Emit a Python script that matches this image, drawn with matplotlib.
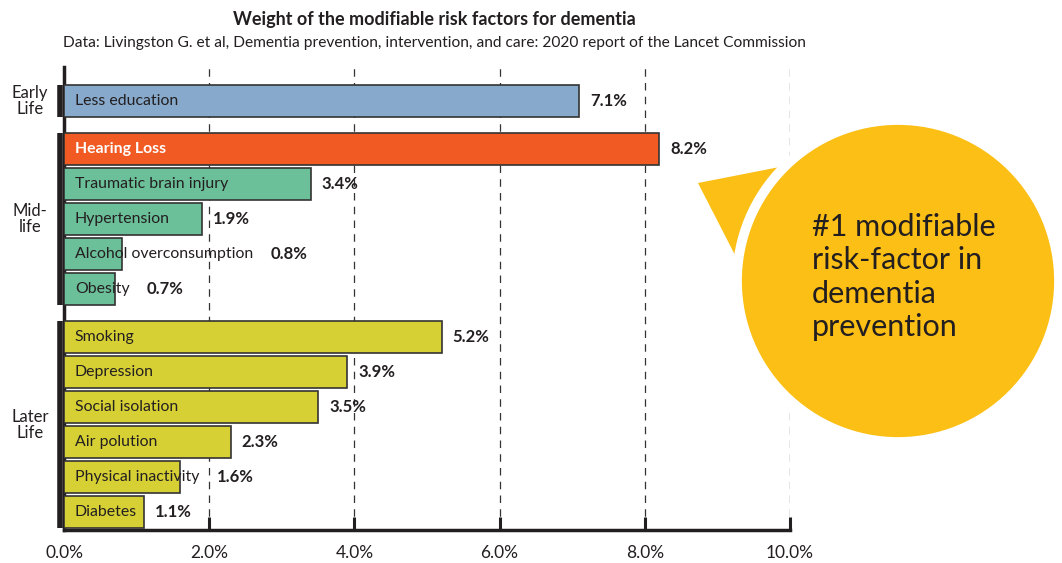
import matplotlib
matplotlib.use("Agg")
import matplotlib.pyplot as plt
from matplotlib.patches import Circle, Polygon

plt.rcParams['font.family'] = ['Lato', 'DejaVu Sans']

# data, top to bottom
groups = ["Early\nLife", "Mid-\nlife", "Later\nLife"]
early_names = ["Less education"]
early_vals = [7.1]
mid_names = ["Hearing Loss", "Traumatic brain injury", "Hypertension",
             "Alcohol overconsumption", "Obesity"]
mid_vals = [8.2, 3.4, 1.9, 0.8, 0.7]
later_names = ["Smoking", "Depression", "Social isolation", "Air polution",
               "Physical inactivity", "Diabetes"]
later_vals = [5.2, 3.9, 3.5, 2.3, 1.6, 1.1]
xticks = [0, 2, 4, 6, 8, 10]

C_EARLY = "#87A9CB"
C_HEAR = "#F15A22"
C_MID = "#6BBF99"
C_LATER = "#D6D035"
C_TEXT = "#231F20"
C_BUBBLE = "#FBBF15"

W, H = 1062, 563
fig = plt.figure(figsize=(W / 100, H / 100), dpi=100)
ax = fig.add_axes([64 / W, 1 - 530 / H, (790 - 64) / W, (530 - 67) / H])

gap = 0.37
group_data = [(early_names, early_vals, C_EARLY),
              (mid_names, mid_vals, C_MID),
              (later_names, later_vals, C_LATER)]

# y positions, bottom group first
pos = {}
y = 0.0
spans = []
for gi in range(len(group_data) - 1, -1, -1):
    names, vals, col = group_data[gi]
    ys = []
    for k in range(len(names) - 1, -1, -1):
        ys.append(y)
        y += 1
    spans.append((gi, min(ys), max(ys)))
    pos[gi] = ys[::-1]
    y += gap
top_y = max(max(p) for p in pos.values())

bar_h = 0.9
name_texts = []
for gi, (names, vals, col) in enumerate(group_data):
    for k, (n, v) in enumerate(zip(names, vals)):
        yy = pos[gi][k]
        c = C_HEAR if n == "Hearing Loss" else col
        ax.barh(yy, v, height=bar_h, color=c, edgecolor="#333333",
                linewidth=1.2, zorder=3)
        bold = n == "Hearing Loss"
        t = ax.text(0.15, yy, n, va="center", ha="left", fontsize=11.4,
                    color="white" if bold else C_TEXT,
                    fontweight="bold" if bold else "normal", zorder=4)
        name_texts.append((t, v, yy))

ax.set_xlim(0, 10)
ax.set_ylim(-0.51, top_y + 0.97)
ax.set_xticks(xticks)
ax.set_xticklabels([f"{v:.1f}%" for v in xticks], fontsize=12.5, color=C_TEXT)
ax.set_yticks([])
ax.tick_params(axis="x", direction="in", length=9.5, width=2.2,
               color=C_TEXT, pad=11)
ax.grid(axis="x", linestyle=(0, (6, 5)), color="#333333", linewidth=0.9,
        zorder=0)
for s in ["top", "right"]:
    ax.spines[s].set_visible(False)
ax.spines["left"].set_linewidth(2.5)
ax.spines["bottom"].set_linewidth(2.5)
ax.spines["left"].set_color(C_TEXT)
ax.spines["bottom"].set_color(C_TEXT)

# group brackets and labels
for gi, lo, hi in spans:
    ax.plot([-0.06, -0.06], [lo - bar_h / 2, hi + bar_h / 2], color=C_TEXT,
            linewidth=4, solid_capstyle="butt", clip_on=False, zorder=5)
    ax.text(-0.47, (lo + hi) / 2, groups[gi], ha="center", va="center",
            fontsize=12, color=C_TEXT, linespacing=1.0, clip_on=False)

# value labels after the bar or the name, whichever is longer
fig.canvas.draw()
inv = ax.transData.inverted()
r = fig.canvas.get_renderer()
for t, v, yy in name_texts:
    bb = t.get_window_extent(renderer=r)
    name_end = inv.transform((bb.x1, bb.y0))[0]
    if name_end + 0.08 > v:
        x = name_end + 0.24
    else:
        x = v + 0.15
    ax.text(x, yy, f"{v:.1f}%", va="center", ha="left", fontsize=12,
            fontweight="bold", color=C_TEXT, zorder=4)

fig.text(434 / W, 1 - 20 / H, "Weight of the modifiable risk factors for dementia",
         ha="center", va="center", fontsize=13, fontweight="bold",
         color=C_TEXT)
fig.text(434 / W, 1 - 43 / H,
         "Data: Livingston G. et al, Dementia prevention, intervention, and care: "
         "2020 report of the Lancet Commission",
         ha="center", va="center", fontsize=11.2, color=C_TEXT)

# callout bubble
ov = fig.add_axes([0, 0, 1, 1], zorder=10)
ov.set_xlim(0, W)
ov.set_ylim(H, 0)
ov.axis("off")
ov.patch.set_alpha(0)
ov.add_patch(Polygon([(698, 183), (790, 165), (735, 255)], closed=True,
                     facecolor=C_BUBBLE, edgecolor="none"))
ov.add_patch(Circle((898, 281), 161, facecolor=C_BUBBLE, edgecolor="white",
                    linewidth=7))
ov.text(812, 277, "#1 modifiable\nrisk-factor in\ndementia\nprevention",
        ha="left", va="center", fontsize=22, color=C_TEXT, linespacing=1.22)

fig.savefig("out.png", dpi=100)
